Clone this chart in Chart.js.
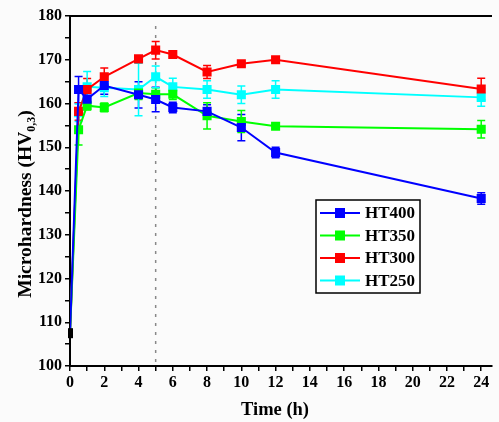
<!DOCTYPE html>
<html>
<head>
<meta charset="utf-8">
<script src="https://cdn.jsdelivr.net/npm/chart.js@4.4.0/dist/chart.umd.min.js"></script>
<style>
  html, body { margin: 0; padding: 0; background: #fbfbfb; overflow: hidden; }
  canvas { display: block; }
</style>
</head>
<body>
<canvas id="chart" width="499" height="422"></canvas>
<script>
// data
const times = [0.5, 1, 2, 4, 5, 6, 8, 10, 12, 24];
const startPoint = { x: 0, y: 107.5, err: 1 };

const ht400 = [163.2, 161.0, 164.1, 162.0, 160.9, 159.1, 158.2, 154.5, 148.8, 138.3];
const err400 = [3.0, 2.0, 2.0, 3.0, 2.8, 1.2, 1.5, 3.0, 1.2, 1.3];
const ht350 = [154.0, 159.5, 159.1, 162.4, 162.1, 162.1, 157.2, 155.9, 154.8, 154.1];
const err350 = [3.5, 1.0, 1.0, 1.5, 1.5, 1.2, 3.0, 2.5, 0.5, 2.0];
const ht300 = [158.2, 163.2, 166.1, 170.2, 172.2, 171.2, 167.2, 169.1, 170.0, 163.3];
const err300 = [2.0, 2.5, 2.0, 0.5, 2.0, 0.5, 1.5, 0.5, 0.5, 2.5];
const ht250 = [157.9, 163.8, 163.6, 163.2, 166.1, 163.8, 163.2, 162.0, 163.2, 161.4];
const err250 = [2.0, 3.5, 2.0, 6.0, 2.5, 2.0, 2.0, 2.0, 2.0, 2.0];

const seriesNames = ['HT400', 'HT350', 'HT300', 'HT250'];
const seriesValues = [ht400, ht350, ht300, ht250];
const seriesErrors = [err400, err350, err300, err250];
const seriesColors = ['#0000ff', '#00ff00', '#ff0000', '#00ffff'];

const xTicks = Array.from({ length: 25 }, (_, i) => i); // 0..24, labelled every 2
const markLine = 5; // dotted vertical line at t = 5 h
const FONT = "'Liberation Serif', 'Times New Roman', serif";

function buildDataset(i) {
  const pts = [{ x: startPoint.x, y: startPoint.y }];
  times.forEach((t, k) => pts.push({ x: t, y: seriesValues[i][k], err: seriesErrors[i][k] }));
  return {
    label: seriesNames[i],
    data: pts,
    borderColor: seriesColors[i],
    backgroundColor: seriesColors[i],
    borderWidth: 2,
    pointStyle: 'rect',
    pointRadius: pts.map((p, k) => (k === 0 ? 0 : 5)),
    pointHoverRadius: 5,
    tension: 0,
  };
}

// error bars, dotted marker line, frame, titles and legend
const extras = {
  id: 'extras',
  beforeDatasetsDraw(chart) {
    const { ctx, chartArea, scales } = chart;
    const x = scales.x, y = scales.y;
    ctx.save();
    // dotted line
    ctx.strokeStyle = '#888';
    ctx.lineWidth = 1.5;
    ctx.setLineDash([3, 6]);
    const px = x.getPixelForValue(markLine);
    ctx.beginPath();
    ctx.moveTo(px, chartArea.top + 10);
    ctx.lineTo(px, chartArea.bottom);
    ctx.stroke();
    ctx.setLineDash([]);
    // error bars
    chart.data.datasets.forEach(ds => {
      ctx.strokeStyle = ds.borderColor;
      ctx.lineWidth = 1.5;
      ds.data.forEach(p => {
        if (p.err === undefined) return;
        const cx = x.getPixelForValue(p.x);
        const y1 = y.getPixelForValue(p.y + p.err);
        const y2 = y.getPixelForValue(p.y - p.err);
        ctx.beginPath();
        ctx.moveTo(cx, y1); ctx.lineTo(cx, y2);
        ctx.moveTo(cx - 4, y1); ctx.lineTo(cx + 4, y1);
        ctx.moveTo(cx - 4, y2); ctx.lineTo(cx + 4, y2);
        ctx.stroke();
      });
    });
    ctx.restore();
  },
  afterDraw(chart) {
    const { ctx, chartArea, scales } = chart;
    const x = scales.x, y = scales.y;
    ctx.save();
    // black start point
    const sx = x.getPixelForValue(startPoint.x);
    const sy = y.getPixelForValue(startPoint.y);
    ctx.fillStyle = '#000';
    ctx.fillRect(sx - 2, sy - 5, 5, 10);
    // top frame line
    ctx.strokeStyle = '#000';
    ctx.lineWidth = 2;
    ctx.beginPath();
    ctx.moveTo(chartArea.left, chartArea.top);
    ctx.lineTo(chartArea.right, chartArea.top);
    ctx.stroke();

    // axis titles
    ctx.fillStyle = '#000';
    ctx.font = 'bold 18.5px ' + FONT;
    ctx.textAlign = 'center';
    ctx.textBaseline = 'alphabetic';
    ctx.fillText('Time (h)', 275, 415);

    const main = 'Microhardness (HV';
    const sub = '0,3';
    const tail = ')';
    ctx.font = 'bold 19.5px ' + FONT;
    const wMain = ctx.measureText(main).width;
    const wTail = ctx.measureText(tail).width;
    ctx.font = 'bold 12px ' + FONT;
    const wSub = ctx.measureText(sub).width;
    const total = wMain + wSub + wTail;
    ctx.translate(31, 204);
    ctx.rotate(-Math.PI / 2);
    ctx.textAlign = 'left';
    let cx = -total / 2;
    ctx.font = 'bold 19.5px ' + FONT;
    ctx.fillText(main, cx, 0);
    cx += wMain;
    ctx.font = 'bold 12px ' + FONT;
    ctx.fillText(sub, cx, 4);
    cx += wSub;
    ctx.font = 'bold 19.5px ' + FONT;
    ctx.fillText(tail, cx, 0);
    ctx.setTransform(1, 0, 0, 1, 0, 0);

    // legend box
    const bx = 316, by = 200, bw = 104, bh = 93;
    ctx.fillStyle = '#ffffff';
    ctx.fillRect(bx, by, bw, bh);
    ctx.strokeStyle = '#000';
    ctx.lineWidth = 1.5;
    ctx.strokeRect(bx, by, bw, bh);
    ctx.font = 'bold 17px ' + FONT;
    ctx.textBaseline = 'middle';
    seriesNames.forEach((name, i) => {
      const ly = by + 13 + i * 22.5;
      ctx.strokeStyle = seriesColors[i];
      ctx.lineWidth = 2;
      ctx.beginPath();
      ctx.moveTo(bx + 4, ly); ctx.lineTo(bx + 44, ly);
      ctx.stroke();
      ctx.fillStyle = seriesColors[i];
      ctx.fillRect(bx + 19, ly - 5, 10, 10);
      ctx.fillStyle = '#000';
      ctx.fillText(name, bx + 49, ly + 1);
    });
    ctx.restore();
  }
};

new Chart(document.getElementById('chart'), {
  type: 'line',
  data: { datasets: [0, 1, 2, 3].map(buildDataset) },
  options: {
    responsive: false,
    animation: false,
    layout: { padding: { top: 16, right: 0, left: 0, bottom: 0 } },
    plugins: { legend: { display: false }, tooltip: { enabled: false } },
    scales: {
      x: {
        type: 'linear',
        min: 0,
        max: 24.63,
        afterFit: s => { s.height = 56; },
        afterBuildTicks: s => { s.ticks = xTicks.map(v => ({ value: v })); },
        ticks: {
          autoSkip: false,
          maxRotation: 0,
          padding: 2,
          color: '#000',
          font: { family: FONT, size: 16, weight: 'bold' },
          callback: v => (v % 2 === 0 ? String(v) : ''),
        },
        grid: { drawOnChartArea: false, drawTicks: true, tickLength: 5, color: '#000', lineWidth: 1.5 },
        border: { display: true, color: '#000', width: 2 },
      },
      y: {
        min: 100,
        max: 180,
        afterFit: s => { s.width = 70; },
        ticks: {
          stepSize: 5,
          autoSkip: false,
          padding: 3,
          color: '#000',
          font: { family: FONT, size: 16, weight: 'bold' },
          callback: v => (v % 10 === 0 ? String(v) : ''),
        },
        grid: { drawOnChartArea: false, drawTicks: true, tickLength: 5, color: '#000', lineWidth: 1.5 },
        border: { display: true, color: '#000', width: 2 },
      },
    },
  },
  plugins: [extras],
});
</script>
</body>
</html>
